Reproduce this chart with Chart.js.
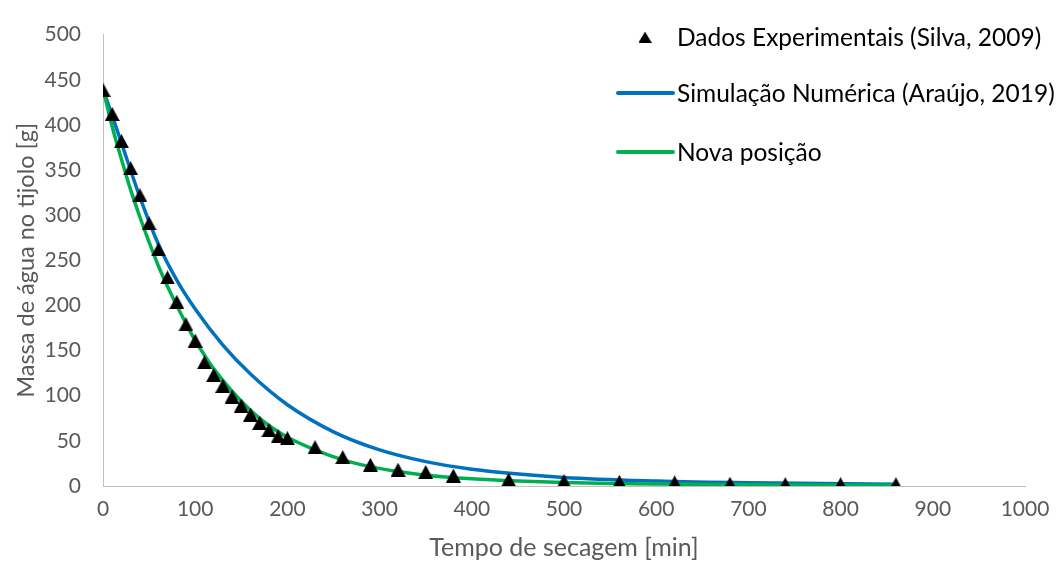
<!DOCTYPE html>
<html>
<head>
<meta charset="utf-8">
<script src="https://cdn.jsdelivr.net/npm/chart.js@4.4.1/dist/chart.umd.min.js"></script>
<style>
  html, body { margin: 0; padding: 0; background: #ffffff; }
  #wrap { width: 1061px; height: 567px; }
</style>
</head>
<body>
<div id="wrap"><canvas id="chart" width="1061" height="567"></canvas></div>
<script>
// Massa de água medida (Silva, 2009)
const expTime = [0, 10, 20, 30, 40, 50, 60, 70, 80, 90, 100, 110, 120, 130, 140, 150, 160, 170, 180, 190, 200,
                 230, 260, 290, 320, 350, 380, 440, 500, 560, 620, 680, 740, 800, 860];
const expMass = [439, 412, 382, 352, 322, 291, 262, 231, 204, 179, 161, 137, 123, 111, 99, 89, 79, 70, 62, 55, 53,
                 43, 32, 23.5, 18, 15.5, 11.5, 7, 5.4, 4.7, 4, 2.5, 2, 2, 2];

// Simulação numérica (Araújo, 2019)
const simTime = [0, 20, 40, 60, 80, 100, 130, 160, 200, 250, 300, 350, 400, 500, 600, 700, 860];
const simMass = [440, 380, 320, 268, 228, 196, 156, 124, 90, 60, 40, 27, 18.5, 9.5, 5.5, 3.5, 2];

// Nova posição
const novaTime = [0, 10, 20, 30, 40, 50, 60, 70, 80, 90, 100, 110, 120, 130, 140, 150, 160, 170, 180, 190, 200,
                  230, 260, 290, 320, 350, 400, 450, 500, 550, 600, 700, 800, 860];
const novaMass = [440, 398, 362, 328, 298, 270, 244, 221, 200, 180, 161, 145, 130, 117, 105, 94, 84, 75, 67, 60, 54,
                  40, 29, 21.5, 16, 12, 8, 5.5, 3.8, 2.8, 2.2, 1.4, 1, 0.8];

const xTickValues = [0, 100, 200, 300, 400, 500, 600, 700, 800, 900, 1000];
const yTickValues = [0, 50, 100, 150, 200, 250, 300, 350, 400, 450, 500];

const seriesLabels = ['Dados Experimentais (Silva, 2009)', 'Simulação Numérica (Araújo, 2019)', 'Nova posição'];
const xTitle = 'Tempo de secagem [min]';
const yTitle = 'Massa de água no tijolo [g]';

const toPoints = (xs, ys) => xs.map((x, i) => ({ x: x, y: ys[i] }));

// Solid triangle whose bounding box is centred on the data point
function triangleMarker(w, h, color) {
  const c = document.createElement('canvas');
  c.width = w;
  c.height = h;
  const g = c.getContext('2d');
  g.fillStyle = color;
  g.beginPath();
  g.moveTo(w / 2, 0);
  g.lineTo(w, h);
  g.lineTo(0, h);
  g.closePath();
  g.fill();
  return c;
}
const triangle = triangleMarker(15, 14, '#000000');

// Legend drawn in the upper right corner of the plot
const cornerLegend = {
  id: 'cornerLegend',
  afterDraw(chart, args, opts) {
    const ctx = chart.ctx;
    ctx.save();
    ctx.font = opts.font;
    ctx.textBaseline = 'middle';
    ctx.textAlign = 'left';
    chart.data.datasets.forEach((ds, i) => {
      const y = opts.rows[i];
      if (ds.showLine) {
        ctx.beginPath();
        ctx.strokeStyle = ds.borderColor;
        ctx.lineWidth = opts.lineWidth;
        ctx.lineCap = 'round';
        ctx.moveTo(opts.lineStart, y);
        ctx.lineTo(opts.lineEnd, y);
        ctx.stroke();
      } else {
        const w = opts.markerSize[0];
        const h = opts.markerSize[1];
        ctx.drawImage(ds.pointStyle, opts.markerX - w / 2, y - h / 2, w, h);
      }
      ctx.fillStyle = opts.color;
      ctx.fillText(ds.label, opts.textX, y + 1);
    });
    ctx.restore();
  }
};

Chart.defaults.font.family = 'Lato, "Open Sans", sans-serif';
Chart.defaults.color = '#595959';

new Chart(document.getElementById('chart'), {
  type: 'scatter',
  data: {
    datasets: [
      {
        label: seriesLabels[0],
        data: toPoints(expTime, expMass),
        showLine: false,
        pointStyle: triangle,
        pointRadius: 8,
        pointHoverRadius: 8,
        backgroundColor: '#000000',
        borderColor: '#000000',
        pointBorderWidth: 0,
        order: 0
      },
      {
        label: seriesLabels[1],
        data: toPoints(simTime, simMass),
        showLine: true,
        pointRadius: 0,
        borderColor: '#0070C0',
        backgroundColor: '#0070C0',
        borderWidth: 3.5,
        cubicInterpolationMode: 'monotone',
        order: 2
      },
      {
        label: seriesLabels[2],
        data: toPoints(novaTime, novaMass),
        showLine: true,
        pointRadius: 0,
        borderColor: '#00B050',
        backgroundColor: '#00B050',
        borderWidth: 3.5,
        cubicInterpolationMode: 'monotone',
        order: 1
      }
    ]
  },
  options: {
    responsive: false,
    animation: false,
    devicePixelRatio: 1,
    layout: { padding: { left: 0, top: 25, right: 36, bottom: 0 } },
    plugins: {
      legend: { display: false },
      tooltip: { enabled: false },
      cornerLegend: {
        rows: [37, 93, 152],
        markerX: 645,
        markerSize: [13, 11],
        lineStart: 618,
        lineEnd: 673,
        lineWidth: 4,
        textX: 677,
        font: '24.5px Lato',
        color: '#000000'
      }
    },
    scales: {
      x: {
        type: 'linear',
        min: 0,
        max: 1000,
        afterBuildTicks: (scale) => { scale.ticks = xTickValues.map(v => ({ value: v })); },
        afterFit: (scale) => { scale.height = 81; },
        grid: { display: false, drawTicks: false },
        border: { display: true, color: '#BFBFBF', width: 1 },
        ticks: { padding: 11, font: { size: 21 }, color: '#595959', maxRotation: 0,
                 callback: (v) => String(v) },
        title: { display: true, text: xTitle, font: { size: 25 }, color: '#595959', padding: { top: 0, bottom: 4 } }
      },
      y: {
        type: 'linear',
        min: 0,
        max: 500,
        afterBuildTicks: (scale) => { scale.ticks = yTickValues.map(v => ({ value: v })); },
        afterFit: (scale) => { scale.width = 103; },
        grid: { display: false, drawTicks: false },
        border: { display: true, color: '#BFBFBF', width: 1 },
        ticks: { padding: 22, font: { size: 21 }, color: '#595959', callback: (v) => String(v) },
        title: { display: true, text: yTitle, font: { size: 23.5 }, color: '#595959', padding: { top: 12, bottom: 0 } }
      }
    }
  },
  plugins: [cornerLegend]
});
</script>
</body>
</html>
